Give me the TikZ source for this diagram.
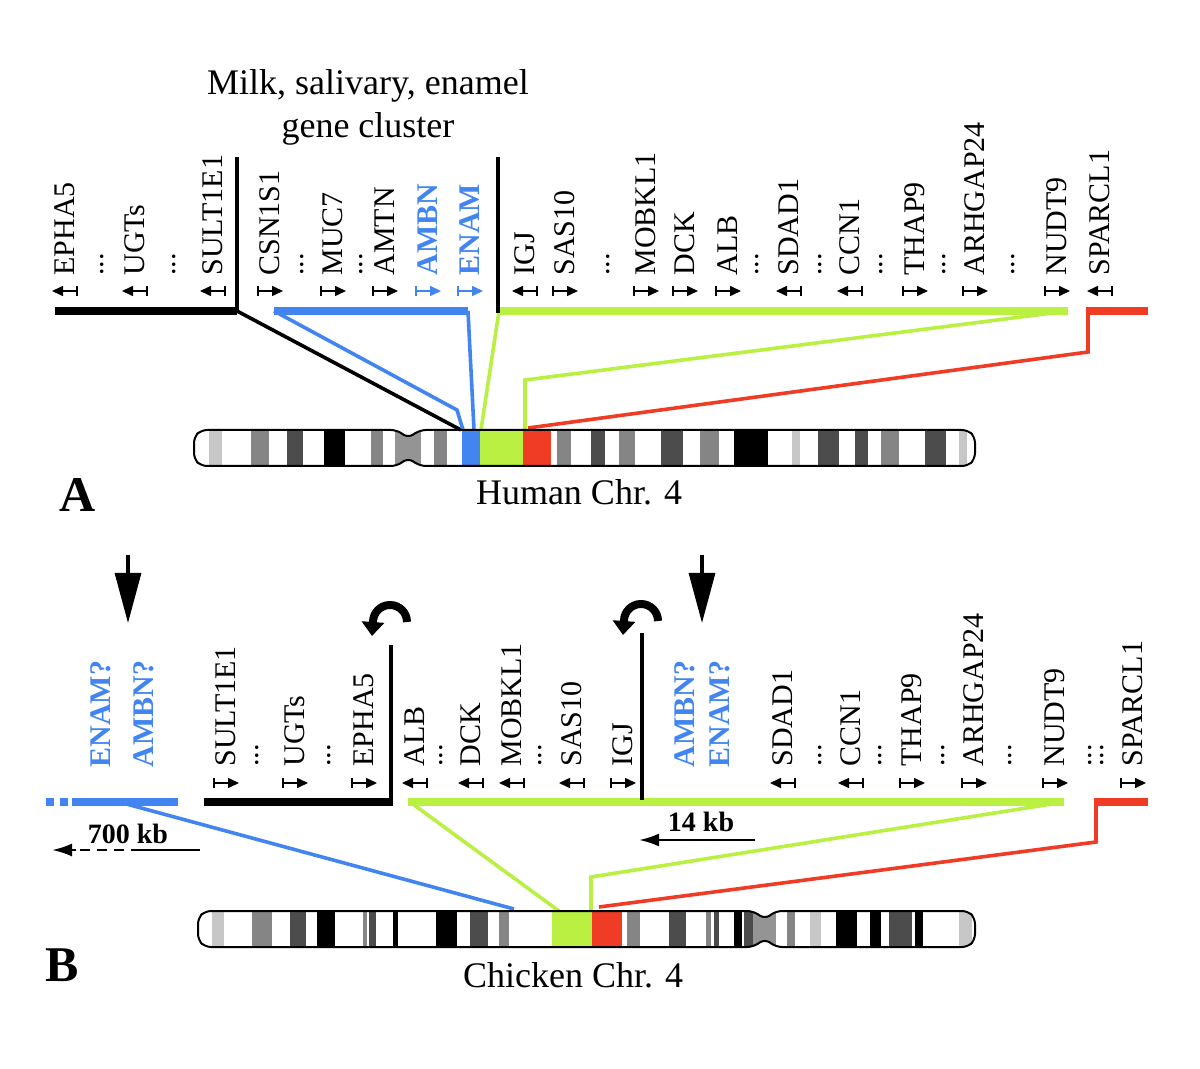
\documentclass[tikz,border=0pt]{standalone}
\usepackage{fontspec}
\setmainfont{Liberation Serif}
\usetikzlibrary{arrows.meta}

\definecolor{enamblue}{RGB}{66,133,240}
\definecolor{cgreen}{RGB}{185,240,66}
\definecolor{cred}{RGB}{240,60,36}
\colorlet{bandlt}{black!22}
\colorlet{bandmd}{black!48}
\colorlet{banddk}{black!70}
\colorlet{bandbk}{black}
\colorlet{bandcen}{black!42}

% small transcription-direction mark under a gene name
\newcommand{\genedir}[4]{%
  \draw[#4,line width=0.8pt] ({#1-12*(#3)},{#2-5}) -- ({#1-12*(#3)},{#2+5});
  \draw[#4,line width=0.8pt,-{Triangle[length=5.5pt,width=5pt]}] ({#1-12*(#3)},#2) -- ({#1+13*(#3)},#2);}

% chromosome outlines
\def\chrA{(201,430) -- (397,430) -- (408,438) -- (420,430) -- (968,430) -- (975,437) -- (975,459) -- (968,466) -- (420,466) -- (408,458) -- (397,466) -- (201,466) -- (194,459) -- (194,437) -- cycle}
\def\chrB{(205,911) -- (753,911) -- (765,919) -- (776,911) -- (968,911) -- (975,918) -- (975,940) -- (968,947) -- (776,947) -- (765,939) -- (753,947) -- (205,947) -- (198,940) -- (198,918) -- cycle}

\begin{document}
\begin{tikzpicture}[x=0.5pt,y=-0.5pt,
  gene/.style={rotate=90,anchor=west,inner sep=0pt,font=\fontsize{15}{18}\selectfont},
  bluegene/.style={gene,text=enamblue,font=\bfseries\fontsize{15}{18}\selectfont},
  title/.style={align=center,inner sep=0pt,font=\fontsize{18}{21.6}\selectfont},
  panel/.style={inner sep=0pt,font=\bfseries\fontsize{25}{30}\selectfont},
  scalelbl/.style={inner sep=0pt,font=\bfseries\fontsize{14}{17}\selectfont},
  bar/.style={line width=4pt},
  vline/.style={line width=1.6pt},
  link/.style={line width=1.8pt},
  bigarrow/.style={line width=1.6pt,-{Triangle[length=25pt,width=13pt]}},
  uturn/.style={line width=4pt,-{Triangle[length=7pt,width=11pt]}},
  scalearrow/.style={line width=1.2pt,-{Latex[length=10pt,width=6.5pt]}}]
\useasboundingbox (0,0) rectangle (1200,1069);

% ---------- A: human ----------
\node[title] (cluster) at (368,107) {Milk, salivary, enamel\\gene cluster};
\foreach \x/\g/\d in {65/EPHA5/-1,135/UGTs/-1,213/SULT1E1/-1,270/CSN1S1/1,333/MUC7/1,385/AMTN/1,
    525/IGJ/-1,565/SAS10/1,646/MOBKL1/1,685/DCK/1,728/ALB/1,789/SDAD1/-1,850/CCN1/-1,
    915/THAP9/1,975/ARHGAP24/1,1057/NUDT9/1,1100/SPARCL1/-1}{
  \node[gene] (h\g) at (\x,276) {\g};
  \genedir{\x}{291}{\d}{black}}
\foreach \x/\g in {428/AMBN,470/ENAM}{
  \node[bluegene] (h\g) at (\x,276) {\g};
  \genedir{\x}{291}{1}{enamblue}}
\foreach \x in {102,174,302,361,608,757,820,881,944,1013}
  \node[gene] (hdot\x) at (\x,276) {...};

\coordinate (hbk0) at (55,311);   \coordinate (hbk1) at (237,311);  \coordinate (hbkT) at (237,157);
\coordinate (hbl0) at (274,311);  \coordinate (hbl1) at (468,311);
\coordinate (hgr0) at (499,311);  \coordinate (hgr1) at (1068,311); \coordinate (hgrT) at (498,157);
\coordinate (hrd0) at (1086,311); \coordinate (hrd1) at (1148,311);
\coordinate (hbkC) at (461,430);
\coordinate (hblK) at (457,410);  \coordinate (hblC0) at (463,430); \coordinate (hblC1) at (474,430);
\coordinate (hgrC0) at (481,430); \coordinate (hgrK) at (525,380);  \coordinate (hgrC1) at (525,430);
\coordinate (hrdK) at (1088,352); \coordinate (hrdC) at (528,428);

\draw[link] (hbk1) -- (hbkC);
\draw[link,enamblue] (hbl0) -- (hblK) -- (hblC0);
\draw[link,enamblue] (hbl1) -- (hblC1);
\draw[link,cgreen] (hgr0) -- (hgrC0);
\draw[link,cgreen] (hgr1) -- (hgrK) -- (hgrC1);
\draw[link,cred] ([xshift=1pt]hrd0) -- (hrdK) -- (hrdC);
\draw[bar] (hbk0) -- (hbk1);
\draw[bar,enamblue] (hbl0) -- (hbl1);
\draw[bar,cgreen] (hgr0) -- (hgr1);
\draw[bar,cred] (hrd0) -- (hrd1);
\draw[vline] (hbkT) -- (hbk1);
\draw[vline] (hgrT) -- ([yshift=-1pt]hgr0 -| hgrT);

\begin{scope}
  \clip[rounded corners=3pt] \chrA;
  \foreach \a/\b/\c in {209/222/bandlt,251/269/bandmd,287/303/banddk,324/345/bandbk,371/383/bandmd,
      395/421/bandcen,434/447/bandmd,462/480/enamblue,480/523/cgreen,523/551/cred,557/571/bandmd,
      591/605/banddk,619/635/bandmd,661/683/banddk,700/719/bandmd,734/768/bandbk,792/800/bandlt,
      818/839/banddk,855/868/banddk,881/899/bandmd,925/946/banddk,959/967/bandlt}
    \fill[\c] (\a,430) rectangle (\b,466);
\end{scope}
\draw[line width=1pt,rounded corners=3pt] \chrA;
\node[title] (hchr) at (579,492) {Human Chr. 4};
\node[panel] (lblA) at (78,495) {A};

% ---------- B: chicken ----------
\coordinate (arL0) at (128,555); \coordinate (arL1) at (128,623);
\coordinate (arR0) at (702,555); \coordinate (arR1) at (702,623);
\draw[bigarrow] (arL0) -- (arL1);
\draw[bigarrow] (arR0) -- (arR1);
\draw[uturn] (407,622) arc[start angle=0,end angle=180,radius=8.5pt] -- ++(-1,14);
\draw[uturn] (658,621) arc[start angle=0,end angle=180,radius=8.5pt] -- ++(-1,14);

\foreach \x/\g/\d in {226/SULT1E1/1,295/UGTs/1,364/EPHA5/1,415/ALB/-1,471/DCK/-1,512/MOBKL1/-1,
    572/SAS10/-1,623/IGJ/1,783/SDAD1/-1,851/CCN1/-1,912/THAP9/1,974/ARHGAP24/1,
    1055/NUDT9/1,1133/SPARCL1/1}{
  \node[gene] (c\g) at (\x,767) {\g};
  \genedir{\x}{783}{\d}{black}}
\foreach \x/\g/\n in {101/ENAM?/1,144/AMBN?/2,685/AMBN?/3,720/ENAM?/4}
  \node[bluegene] (cq\n) at (\x,768) {\g};
\foreach \x in {257,329,441,540,820,880,943,1010,1090,1102}
  \node[gene] (cdot\x) at (\x,767) {...};

\coordinate (cbl0) at (72,802);   \coordinate (cbl1) at (178,802);  \coordinate (cblL) at (119,802);
\coordinate (cbk0) at (204,802);  \coordinate (cbk1) at (392,802);  \coordinate (cbkT) at (391,645);
\coordinate (cgr0) at (408,802);  \coordinate (cgr1) at (1064,802); \coordinate (cgrT) at (642,633);
\coordinate (crd0) at (1094,802); \coordinate (crd1) at (1148,802);
\coordinate (cblC) at (514,909);
\coordinate (cgrC0) at (559,911); \coordinate (cgrK) at (591,877);  \coordinate (cgrC1) at (591,911);
\coordinate (crdK) at (1096,842); \coordinate (crdC) at (599,907);

\draw[link,enamblue] (cblL) -- (cblC);
\draw[link,cgreen] ([xshift=1pt]cgr0) -- (cgrC0);
\draw[link,cgreen] (cgr1) -- (cgrK) -- (cgrC1);
\draw[link,cred] ([xshift=1pt]crd0) -- (crdK) -- (crdC);
\draw[bar,enamblue] (46,802) -- (54,802) (60,802) -- (68,802);
\draw[bar,enamblue] (cbl0) -- (cbl1);
\draw[bar] (cbk0) -- (cbk1);
\draw[bar,cgreen] (cgr0) -- (cgr1);
\draw[bar,cred] (crd0) -- (crd1);
\draw[vline] (cbkT) -- ([yshift=-2pt]cbk1 -| cbkT);
\draw[vline] (cgrT) -- ([yshift=1pt]cgr0 -| cgrT);

% scale bars
\node[scalelbl] (kb700) at (128,834) {700 kb};
\node[scalelbl] (kb14) at (701,822) {14 kb};
\coordinate (sb0) at (200,850); \coordinate (sbm) at (141,850);
\coordinate (sbd) at (76,850);  \coordinate (sb1) at (52,850);
\draw[line width=1.2pt] (sb0) -- (sbm);
\draw[line width=1.2pt,dash pattern=on 5pt off 3.5pt] (sbm) -- (sbd);
\draw[scalearrow] (sbd) -- (sb1);
\coordinate (sc0) at (755,840); \coordinate (sc1) at (639,840);
\draw[scalearrow] (sc0) -- (sc1);

\begin{scope}
  \clip[rounded corners=3pt] \chrB;
  \foreach \a/\b/\c in {212/224/bandlt,252/272/bandmd,290/306/banddk,317/335/bandbk,363/367/bandmd,
      369/376/banddk,393/398/bandbk,436/457/bandbk,470/488/banddk,499/509/bandmd,552/592/cgreen,
      592/622/cred,627/640/bandmd,669/686/banddk,706/711/bandmd,714/719/banddk,734/742/bandbk,
      744/753/banddk,753/776/bandcen,787/795/bandmd,810/821/bandlt,836/857/bandbk,870/881/bandbk,
      889/912/banddk,915/923/bandbk,959/972/bandlt}
    \fill[\c] (\a,911) rectangle (\b,947);
\end{scope}
\draw[line width=1pt,rounded corners=3pt] \chrB;
\node[title] (cchr) at (573,975) {Chicken Chr. 4};
\node[panel] (lblB) at (62,965) {B};
\end{tikzpicture}
\end{document}
